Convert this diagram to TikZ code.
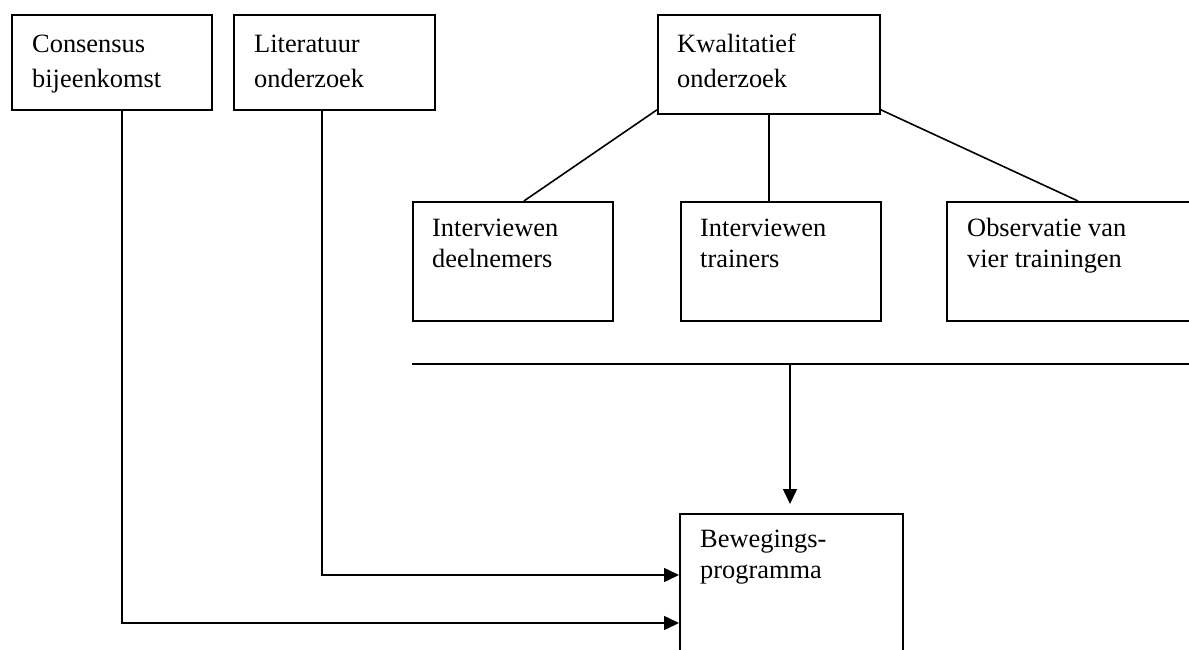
\documentclass[tikz,border=0pt]{standalone}
\usepackage{fontspec}
\setmainfont{Liberation Serif}
\usetikzlibrary{arrows.meta,calc}
\begin{document}
\begin{tikzpicture}[x=1pt,y=-1pt,
  box/.style={draw, line width=1.8pt, inner sep=0pt, anchor=north west},
  txt/.style={inner sep=0pt, anchor=north west, align=left, font=\fontsize{26.4}{31}\selectfont},
  txtwide/.style={txt, font=\fontsize{26.4}{34.5}\selectfont},
  conn/.style={line width=1.6pt},
  arr/.style={conn, -{Triangle[length=15pt,width=14pt]}}]
\useasboundingbox (0,0) rectangle (1189,650);
\clip (0,0) rectangle (1189,650);
% boxes
\node[box, minimum width=200pt, minimum height=95pt] (cons) at (11,14) {};
\node[box, minimum width=201pt, minimum height=95pt] (lit) at (233,14) {};
\node[box, minimum width=222pt, minimum height=99pt] (kwal) at (657,14) {};
\node[box, minimum width=200pt, minimum height=119pt] (deel) at (412,201) {};
\node[box, minimum width=200pt, minimum height=119pt] (train) at (680,201) {};
\node[box, minimum width=260pt, minimum height=119pt] (obs) at (946,201) {};
\node[box, minimum width=223pt, minimum height=160pt] (bew) at (679,513) {};
% texts
\node[txtwide] (tcons) at (32,35) {Consensus\\bijeenkomst};
\node[txtwide] (tlit) at (254,35) {Literatuur\\onderzoek};
\node[txtwide] (tkwal) at (677,34) {Kwalitatief\\onderzoek};
\node[txt] (tdeel) at (432,219) {Interviewen\\deelnemers};
\node[txt] (ttrain) at (700,219) {Interviewen\\trainers};
\node[txt] (tobs) at (967,218) {Observatie van\\vier trainingen};
\node[txt] (tbew) at (700,530) {Bewegings-\\programma};
% connectors from Kwalitatief onderzoek
\draw[conn] ([yshift=5pt]kwal.south west) -- ([xshift=11pt]deel.north);
\draw[conn] (kwal.south) -- (kwal.south |- train.north);
\draw[conn] ([yshift=5pt]kwal.south east) -- ([xshift=132pt]obs.north west);
% bar and arrow down
\coordinate (barL) at (412,364);
\coordinate (barR) at (1195,364);
\coordinate (barM) at (790,364);
\coordinate (bewIn) at ($(barM |- bew.north)+(0,-9)$);
\draw[conn] (barL) -- (barR);
\draw[arr] (barM) -- (bewIn);
% left arrows
\draw[arr] ([xshift=111pt]cons.south west) |- ([yshift=-110pt]bew.north west);
\draw[arr] ([xshift=89pt]lit.south west) |- ([yshift=-62pt]bew.north west);
\end{tikzpicture}
\end{document}
